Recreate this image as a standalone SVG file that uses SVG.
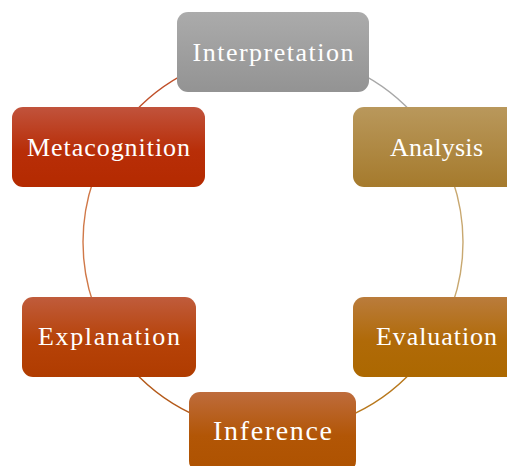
<svg xmlns="http://www.w3.org/2000/svg" width="507" height="466" viewBox="0 0 507 466">
<defs>
<linearGradient id="gGray" x1="0" y1="0" x2="0" y2="1"><stop offset="0" stop-color="#ababab"/><stop offset="1" stop-color="#939393"/></linearGradient>
<linearGradient id="gMeta" x1="0" y1="0" x2="0" y2="1"><stop offset="0" stop-color="#c1533c"/><stop offset="0.55" stop-color="#b82e08"/><stop offset="1" stop-color="#b42a00"/></linearGradient>
<linearGradient id="gAna" x1="0" y1="0" x2="0" y2="1"><stop offset="0" stop-color="#b9985c"/><stop offset="1" stop-color="#a57a2c"/></linearGradient>
<linearGradient id="gExp" x1="0" y1="0" x2="0" y2="1"><stop offset="0" stop-color="#c05c3c"/><stop offset="0.55" stop-color="#b64208"/><stop offset="1" stop-color="#b03c00"/></linearGradient>
<linearGradient id="gEva" x1="0" y1="0" x2="0" y2="1"><stop offset="0" stop-color="#ba7c3c"/><stop offset="0.55" stop-color="#b06a08"/><stop offset="1" stop-color="#ac6800"/></linearGradient>
<linearGradient id="gInf" x1="0" y1="0" x2="0" y2="1"><stop offset="0" stop-color="#be6c3c"/><stop offset="0.55" stop-color="#b25606"/><stop offset="1" stop-color="#ae5200"/></linearGradient>
</defs>
<style>
.box{stroke:none}
.lbl{font-family:"Liberation Serif","DejaVu Serif",serif;font-size:26px;fill:#ffffff;text-anchor:middle}
.arc{fill:none;stroke-width:1.4}
</style>
<g id="connectors">
<path class="arc" stroke="#c0502a" d="M 127.4 120 A 190 190 0 0 1 190 71.1"/>
<path class="arc" stroke="#a8a8a8" d="M 356 71.1 A 190 190 0 0 1 418.6 120"/>
<path class="arc" stroke="#c8a870" d="M 452.6 180 A 190 190 0 0 1 452.6 304"/>
<path class="arc" stroke="#b8781c" d="M 413.4 370 A 190 190 0 0 1 345 417.8"/>
<path class="arc" stroke="#b45a1a" d="M 201 417.8 A 190 190 0 0 1 132.6 370"/>
<path class="arc" stroke="#d07848" d="M 93.4 304 A 190 190 0 0 1 93.4 180"/>
</g>
<g id="interpretation"><rect class="box" x="177" y="12" width="192" height="80" rx="11" fill="url(#gGray)"/><text class="lbl" x="273" y="61" textLength="161">Interpretation</text></g>
<g id="analysis"><rect class="box" x="353" y="107" width="170" height="80" rx="11" fill="url(#gAna)"/><text class="lbl" x="436.5" y="156" textLength="93">Analysis</text></g>
<g id="evaluation"><rect class="box" x="353" y="297" width="170" height="80" rx="11" fill="url(#gEva)"/><text class="lbl" x="436.5" y="345" textLength="121">Evaluation</text></g>
<g id="inference"><rect class="box" x="189" y="392" width="167" height="80" rx="11" fill="url(#gInf)"/><text class="lbl" x="272.5" y="440" textLength="119" style="font-size:28px">Inference</text></g>
<g id="explanation"><rect class="box" x="22" y="297" width="174" height="80" rx="11" fill="url(#gExp)"/><text class="lbl" x="109" y="345" textLength="142">Explanation</text></g>
<g id="metacognition"><rect class="box" x="12" y="107" width="193" height="80" rx="11" fill="url(#gMeta)"/><text class="lbl" x="108.5" y="156" textLength="163">Metacognition</text></g>
</svg>
